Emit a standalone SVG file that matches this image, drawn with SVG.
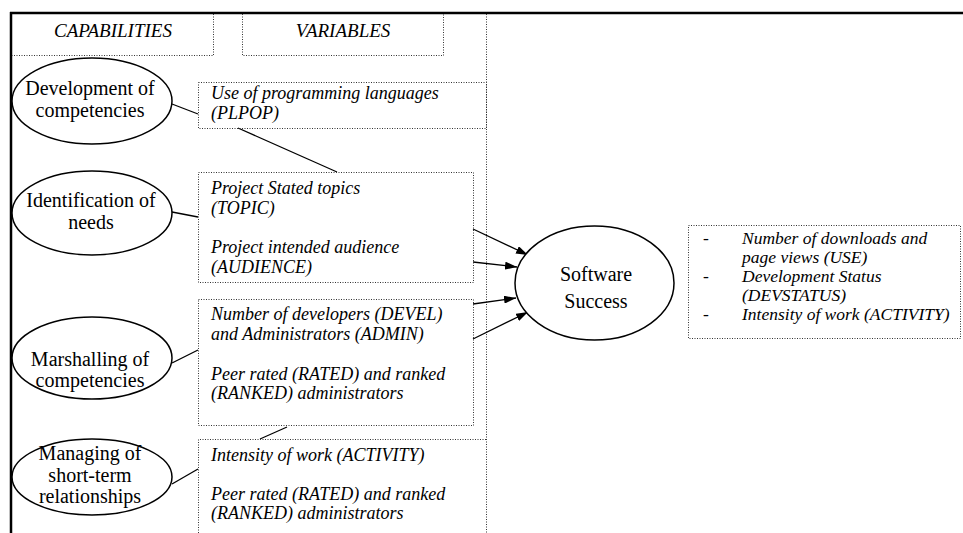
<svg xmlns="http://www.w3.org/2000/svg" width="963" height="533" viewBox="0 0 963 533">
<style>
.frame{stroke:#000;stroke-width:2.5;fill:none}
.dot{stroke:#333;stroke-width:1;stroke-dasharray:1 1.5;fill:none}
.ell{stroke:#000;stroke-width:1.5;fill:#fff}
.ln{stroke:#000;stroke-width:1.3;fill:none}
.et{font-family:"Liberation Serif","Times New Roman",serif;font-size:20px;fill:#000;text-anchor:middle}
.it{font-family:"Liberation Serif","Times New Roman",serif;font-size:18px;font-style:italic;fill:#000}
.rt{font-family:"Liberation Serif","Times New Roman",serif;font-size:17.5px;font-style:italic;fill:#000}
.hd{font-family:"Liberation Serif","Times New Roman",serif;font-size:19px;font-style:italic;fill:#000;text-anchor:middle}
</style>
<defs>
<marker id="ah" viewBox="0 0 12 8" refX="12" refY="4" markerWidth="12" markerHeight="8" markerUnits="userSpaceOnUse" orient="auto">
<path d="M0,0 L12,4 L0,8 Z" fill="#000"/>
</marker>
</defs>
<rect width="963" height="533" fill="#fff"/>
<g id="frame">
<line class="frame" x1="10" y1="13" x2="963" y2="13"/>
<line class="frame" x1="11" y1="12" x2="11" y2="533"/>
<line class="dot" x1="486.5" y1="14" x2="486.5" y2="533"/>
</g>
<g id="hdr-capabilities">
<path class="dot" d="M213.5,14 V55.5 H12"/>
<text class="hd" x="113" y="37">CAPABILITIES</text>
</g>
<g id="hdr-variables">
<path class="dot" d="M242.5,14 V55.5 H443.5 V14"/>
<text class="hd" x="343" y="37">VARIABLES</text>
</g>
<g id="connectors">
<line class="ln" x1="172" y1="104" x2="198" y2="114"/>
<line class="ln" x1="238" y1="128" x2="337" y2="172"/>
<line class="ln" x1="172" y1="212" x2="198" y2="217"/>
<line class="ln" x1="172" y1="363" x2="198" y2="350"/>
<line class="ln" x1="287" y1="427" x2="260" y2="439"/>
<line class="ln" x1="172" y1="484" x2="198" y2="469"/>
<line class="ln" x1="473" y1="229" x2="528" y2="255" marker-end="url(#ah)"/>
<line class="ln" x1="473" y1="262" x2="517" y2="267" marker-end="url(#ah)"/>
<line class="ln" x1="473" y1="304" x2="516" y2="298" marker-end="url(#ah)"/>
<line class="ln" x1="473" y1="339" x2="528" y2="312" marker-end="url(#ah)"/>
</g>
<g id="cap-development">
<ellipse class="ell" cx="92" cy="101" rx="80" ry="43"/>
<text class="et" x="90" y="95">Development of</text>
<text class="et" x="90" y="117">competencies</text>
</g>
<g id="cap-identification">
<ellipse class="ell" cx="92" cy="213" rx="80" ry="42"/>
<text class="et" x="91" y="207">Identification of</text>
<text class="et" x="91" y="229">needs</text>
</g>
<g id="cap-marshalling">
<ellipse class="ell" cx="92" cy="358" rx="80" ry="41"/>
<text class="et" x="90" y="366">Marshalling of</text>
<text class="et" x="90" y="387">competencies</text>
</g>
<g id="cap-managing">
<ellipse class="ell" cx="92" cy="477" rx="80" ry="38"/>
<text class="et" x="90" y="460">Managing of</text>
<text class="et" x="90" y="482">short-term</text>
<text class="et" x="90" y="503">relationships</text>
</g>
<g id="var-plpop">
<rect class="dot" x="198.5" y="82.5" width="288" height="46"/>
<text class="it" x="211" y="99">Use of programming languages</text>
<text class="it" x="211" y="119">(PLPOP)</text>
</g>
<g id="var-topic">
<rect class="dot" x="198.5" y="172.5" width="275" height="110"/>
<text class="it" x="211" y="194">Project Stated topics</text>
<text class="it" x="211" y="214">(TOPIC)</text>
<text class="it" x="211" y="253">Project intended audience</text>
<text class="it" x="211" y="273">(AUDIENCE)</text>
</g>
<g id="var-devel">
<rect class="dot" x="198.5" y="299.5" width="275" height="126"/>
<text class="it" x="211" y="320">Number of developers (DEVEL)</text>
<text class="it" x="211" y="340">and Administrators (ADMIN)</text>
<text class="it" x="211" y="380">Peer rated (RATED) and ranked</text>
<text class="it" x="211" y="399">(RANKED) administrators</text>
</g>
<g id="var-activity">
<path class="dot" d="M198.5,533 V439.5 H486.5"/>
<text class="it" x="211" y="461">Intensity of work (ACTIVITY)</text>
<text class="it" x="211" y="500">Peer rated (RATED) and ranked</text>
<text class="it" x="211" y="519">(RANKED) administrators</text>
</g>
<g id="software-success">
<ellipse class="ell" cx="594.5" cy="283" rx="79.5" ry="57"/>
<text class="et" x="596" y="281">Software</text>
<text class="et" x="596" y="308">Success</text>
</g>
<g id="success-measures">
<rect class="dot" x="688.5" y="225.5" width="272" height="113"/>
<text class="rt" x="703" y="244">-</text>
<text class="rt" x="742" y="244">Number of downloads and</text>
<text class="rt" x="742" y="263">page views (USE)</text>
<text class="rt" x="703" y="282">-</text>
<text class="rt" x="742" y="282">Development Status</text>
<text class="rt" x="742" y="301">(DEVSTATUS)</text>
<text class="rt" x="703" y="320">-</text>
<text class="rt" x="742" y="320">Intensity of work (ACTIVITY)</text>
</g>
</svg>
